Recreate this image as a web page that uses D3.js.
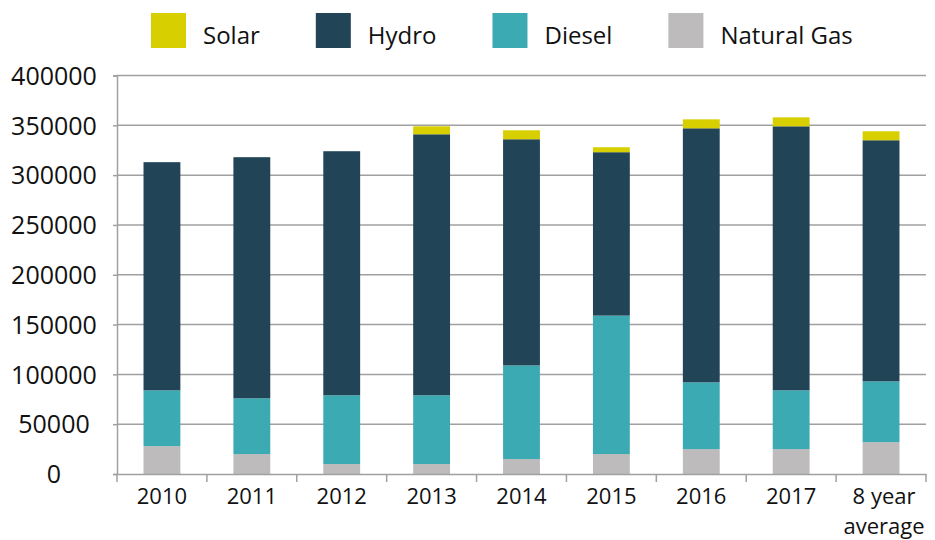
<!DOCTYPE html>
<html>
<head>
<meta charset="utf-8">
<script src="https://cdnjs.cloudflare.com/ajax/libs/d3/7.8.5/d3.min.js"></script>
<style>
  body { margin: 0; background: #fff; }
  text { font-family: "Open Sans", sans-serif; fill: #111; }
</style>
</head>
<body>
<div id="chart"></div>
<script>
(function() {

    var width = 935,
    height = 540;

    // data
    var years = ["2010", "2011", "2012", "2013", "2014", "2015", "2016", "2017", "8 year average"]
    var series = ["Natural Gas", "Diesel", "Hydro", "Solar"]
    var naturalGas = [28000, 20000, 10000, 10000, 15000, 20000, 25000, 25000, 32000]
    var diesel = [56000, 56000, 69000, 69000, 94000, 139000, 67000, 59000, 61000]
    var hydro = [229000, 242000, 245000, 262000, 227000, 164000, 255000, 265000, 242000]
    var solar = [0, 0, 0, 8000, 9000, 5000, 9000, 9000, 9000]
    var yTicks = [0, 50000, 100000, 150000, 200000, 250000, 300000, 350000, 400000]
    var legendOrder = ["Solar", "Hydro", "Diesel", "Natural Gas"]

    var colors = {
        "Solar": "#d7cf00",
        "Hydro": "#224457",
        "Diesel": "#3caab3",
        "Natural Gas": "#bdbbbc"
    }

    var rows = years.map(function(y, i) {
        return {
            year: y,
            "Natural Gas": naturalGas[i],
            "Diesel": diesel[i],
            "Hydro": hydro[i],
            "Solar": solar[i]
        }
    })

    var svg = d3.select("#chart")
    .append("svg")
    .attr("width", width)
    .attr("height", height)

    var left = 117, right = 926, top = 75.5, bottom = 474

    var x = d3.scaleBand().domain(years).range([left, right])
        .paddingInner(0.59).paddingOuter(0.295)

    var y = d3.scaleLinear().domain([0, 400000]).range([bottom, top])

    // gridlines + y axis
    var yAxis = svg.append("g")
        .attr("transform", "translate(" + left + ",0)")
        .call(d3.axisLeft(y).tickValues(yTicks).tickSize(4).tickFormat(function(d){ return d }))

    yAxis.select(".domain").attr("stroke", "#a0a0a0").attr("stroke-width", 1.5)
    yAxis.selectAll(".tick line").attr("stroke", "#a0a0a0").attr("stroke-width", 1.5)
    yAxis.selectAll(".tick text")
        .attr("x", -63)
        .attr("text-anchor", "middle")
        .attr("dy", "0.35em")
        .style("font-size", "25px")
        .style("font-family", "Open Sans")

    svg.append("g").selectAll("line")
        .data(yTicks.filter(function(d){ return d > 0 }))
        .enter().append("line")
        .attr("x1", left).attr("x2", right)
        .attr("y1", function(d){ return y(d) })
        .attr("y2", function(d){ return y(d) })
        .attr("stroke", "#a0a0a0")
        .attr("stroke-width", 1.5)

    // stacked bars
    var stack = d3.stack().keys(series)
    var layers = stack(rows)

    svg.append("g").selectAll("g")
        .data(layers)
        .enter().append("g")
        .attr("fill", function(d){ return colors[d.key] })
        .selectAll("rect")
        .data(function(d){ return d })
        .enter().append("rect")
        .attr("x", function(d){ return x(d.data.year) })
        .attr("width", x.bandwidth())
        .attr("y", function(d){ return y(d[1]) })
        .attr("height", function(d){ return y(d[0]) - y(d[1]) })

    // x axis
    var xAxis = svg.append("g")
        .attr("transform", "translate(0," + bottom + ")")
        .call(d3.axisBottom(x).tickSize(0).tickPadding(14))

    xAxis.select(".domain").attr("stroke", "#a0a0a0").attr("stroke-width", 1.5)

    // boundary tick marks
    var bounds = d3.range(years.length + 1).map(function(i){ return left + i * x.step() })
    xAxis.selectAll(".bound")
        .data(bounds)
        .enter().append("line")
        .attr("class", "bound")
        .attr("x1", function(d){ return d }).attr("x2", function(d){ return d })
        .attr("y1", 0).attr("y2", 8)
        .attr("stroke", "#a0a0a0")
        .attr("stroke-width", 1.5)

    xAxis.selectAll(".tick text")
        .style("font-size", "22px")
        .style("font-family", "Open Sans")
        .each(function(d) {
            var t = d3.select(this)
            if (d === "8 year average") {
                t.text(null)
                t.append("tspan").attr("x", 3).attr("dy", "0.71em").text("8 year")
                t.append("tspan").attr("x", 3).attr("dy", "1.37em").text("average")
            }
        })

    // legend
    var lx = 151
    var legend = svg.append("g")
    legendOrder.forEach(function(name) {
        legend.append("rect")
            .attr("x", lx).attr("y", 13)
            .attr("width", 35).attr("height", 35)
            .attr("fill", colors[name])
        var t = legend.append("text")
            .attr("x", lx + 52).attr("y", 44)
            .style("font-size", "24px")
            .text(name)
        lx = lx + 52 + t.node().getComputedTextLength() + 56
    })

})();
</script>
</body>
</html>
